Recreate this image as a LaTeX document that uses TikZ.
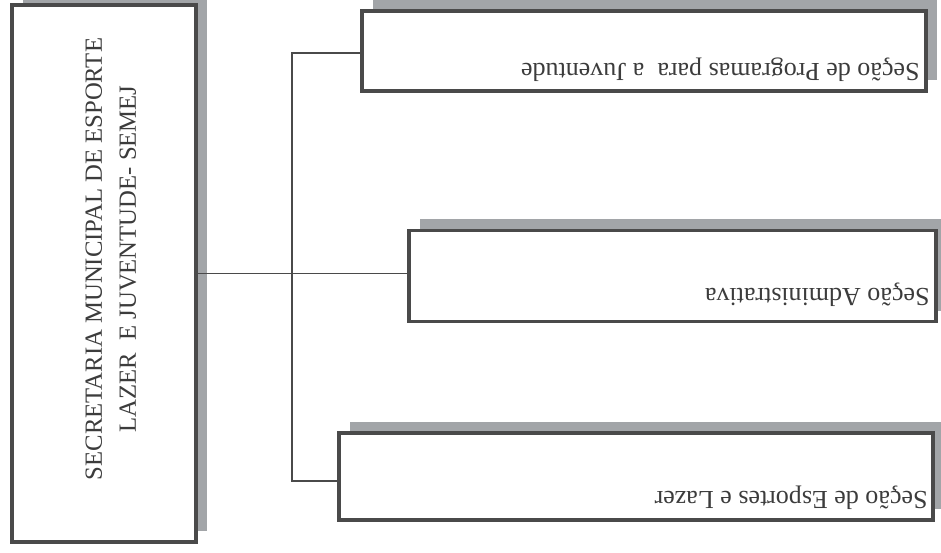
\documentclass[tikz,border=0pt]{standalone}
\usepackage{fontspec}
\setmainfont{Liberation Serif}
\usetikzlibrary{shadows}
\definecolor{framegray}{HTML}{4A4A4A}
\definecolor{shadegray}{HTML}{A2A5A8}
\definecolor{inkgray}{HTML}{3C3C3C}

\begin{document}
\begin{tikzpicture}[x=1pt,y=-1pt,
  box/.style={draw=framegray, line width=3.5pt, fill=white, inner sep=0pt,
    drop shadow={shadow xshift=11pt, shadow yshift=11pt, fill=shadegray, opacity=1}},
  link/.style={draw=framegray, line width=1.8pt},
  lbl/.style={text=inkgray, font=\fontsize{26}{34}\selectfont, inner sep=0pt}]
\useasboundingbox (0,0) rectangle (941,553);

% secretaria
\node[box, minimum width=184pt, minimum height=537pt] (sec) at (104,273.5) {};
\node[lbl, rotate=90, align=center, font=\fontsize{24.7}{34}\selectfont] (sectxt) at (111,259)
  {SECRETARIA MUNICIPAL DE ESPORTE\\LAZER\ \ E JUVENTUDE- SEMEJ};

% secoes
\node[box, minimum width=564pt, minimum height=80pt] (prog) at (644,51) {};
\node[box, minimum width=527pt, minimum height=91pt] (adm) at (672.5,276) {};
\node[box, minimum width=594pt, minimum height=87pt] (esp) at (636,476.5) {};

\node[lbl, rotate=180, anchor=west] (progtxt) at ([xshift=-8pt, yshift=-19pt]prog.east)
  {Seção de Programas para\ \ a Juventude};
\node[lbl, rotate=180, anchor=west] (admtxt) at ([xshift=-8pt, yshift=-19pt]adm.east)
  {Seção Administrativa};
\node[lbl, rotate=180, anchor=west] (esptxt) at ([xshift=-7pt, yshift=-21.5pt]esp.east)
  {Seção de Esportes e Lazer};

% ligacoes
\coordinate (spine) at (292,274);
\draw[link] (sec.east) -- (sec.east -| adm.west);
\draw[link] ([yshift=-2pt]prog.west) -| (spine) |- ([yshift=-4.5pt]esp.west);
\end{tikzpicture}
\end{document}
